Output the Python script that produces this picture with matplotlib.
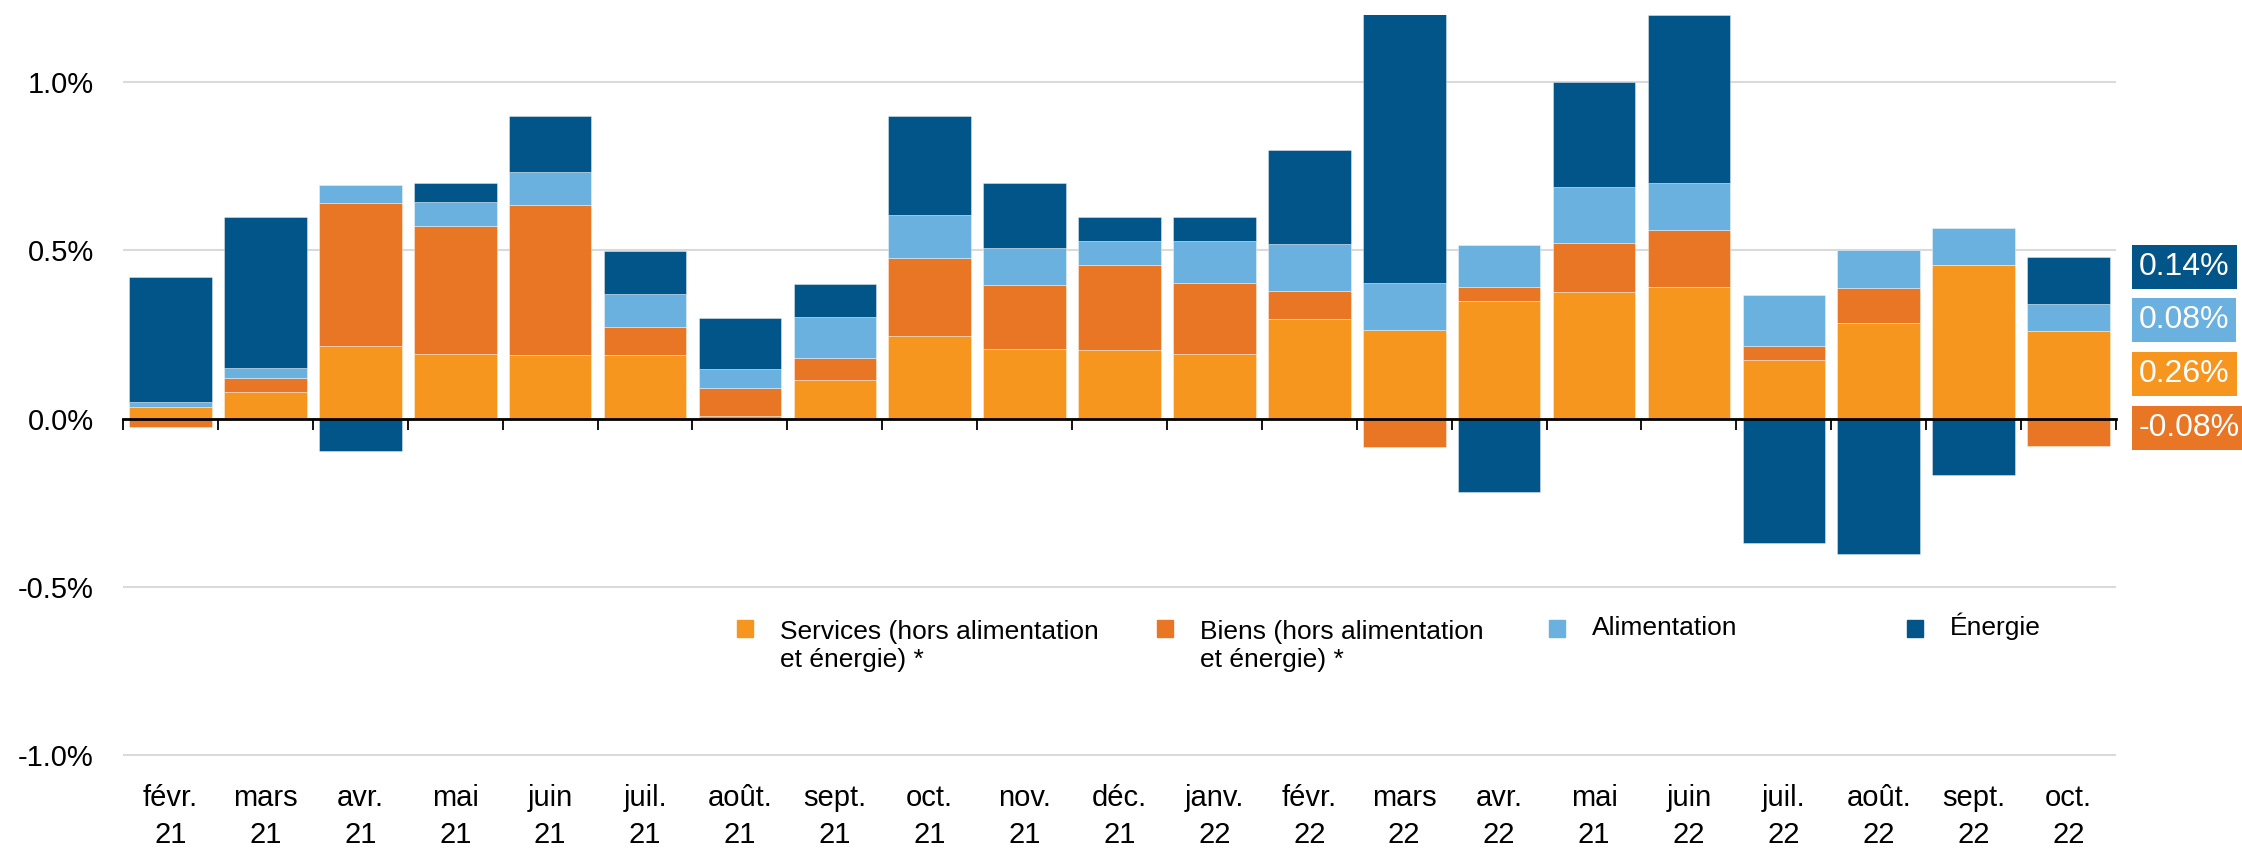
import numpy as np
import matplotlib.pyplot as plt
from matplotlib.patches import Rectangle

plt.rcParams['font.family'] = ['Liberation Sans', 'DejaVu Sans']

months = ['févr.\n21', 'mars\n21', 'avr.\n21', 'mai\n21', 'juin\n21', 'juil.\n21',
          'août.\n21', 'sept.\n21', 'oct.\n21', 'nov.\n21', 'déc.\n21', 'janv.\n22',
          'févr.\n22', 'mars\n22', 'avr.\n22', 'mai\n21', 'juin\n22', 'juil.\n22',
          'août.\n22', 'sept.\n22', 'oct.\n22']

services = [0.036, 0.080, 0.215, 0.193, 0.188, 0.188, 0.007, 0.115, 0.246, 0.206, 0.203,
            0.191, 0.297, 0.264, 0.349, 0.376, 0.392, 0.174, 0.284, 0.458, 0.26]
biens = [-0.024, 0.041, 0.426, 0.380, 0.447, 0.085, 0.083, 0.064, 0.233, 0.191, 0.255,
         0.213, 0.083, -0.085, 0.043, 0.147, 0.170, 0.042, 0.105, 0.0, -0.08]
alimentation = [0.014, 0.029, 0.054, 0.071, 0.097, 0.097, 0.057, 0.124, 0.125, 0.110, 0.070,
                0.123, 0.139, 0.139, 0.123, 0.165, 0.139, 0.152, 0.111, 0.109, 0.08]
energie = [0.370, 0.448, -0.095, 0.056, 0.169, 0.129, 0.152, 0.096, 0.297, 0.193, 0.071,
           0.072, 0.281, 0.80, -0.217, 0.313, 0.50, -0.370, -0.403, -0.169, 0.14]

series = [
    ('Services (hors alimentation\net énergie) *', services, '#F7961F'),
    ('Biens (hors alimentation\net énergie) *', biens, '#E87624'),
    ('Alimentation', alimentation, '#6AB1E0'),
    ('Énergie', energie, '#025588'),
]

fig = plt.figure(figsize=(22.42, 8.48), dpi=100)
ax = fig.add_axes([0.0549, 0.0700, 0.8889, 0.9123])

x = np.arange(len(months))
pos = np.zeros(len(months))
neg = np.zeros(len(months))
for name, vals, col in series:
    v = np.array(vals)
    bottom = np.where(v >= 0, pos, neg)
    ax.bar(x, v, 0.87, bottom=bottom, color=col, edgecolor=(1, 1, 1, 0.45),
           linewidth=0.6, zorder=2)
    pos = pos + np.where(v >= 0, v, 0)
    neg = neg + np.where(v < 0, v, 0)

ax.set_xlim(-0.5, len(months) - 0.5)
ax.set_ylim(-1.1, 1.2)
ax.set_yticks([-1.0, -0.5, 0.0, 0.5, 1.0])
ax.set_yticklabels(['-1.0%', '-0.5%', '0.0%', '0.5%', '1.0%'])
ax.grid(axis='y', color='#DADADA', linewidth=1.5, zorder=0)
ax.set_axisbelow(True)
ax.tick_params(axis='y', length=0, pad=21, labelsize=21)
ax.set_xticks(x)
ax.set_xticklabels(months, linespacing=1.38)
ax.tick_params(axis='x', length=0, pad=-3, labelsize=21)
for s in ax.spines.values():
    s.set_visible(False)

# zero line with ticks between months
zero_pos = (0 - (-1.1)) / 2.3
sec = ax.secondary_xaxis(zero_pos)
sec.set_xticks(np.arange(-0.5, len(months), 1.0))
sec.set_xticklabels([])
sec.tick_params(axis='x', direction='out', length=8, width=1.3, color='black')
sec.spines['bottom'].set_linewidth(2)
sec.spines['bottom'].set_color('black')
sec.set_zorder(3)

# labels of the last month, boxes on the right (energie, alimentation, services, biens)
box_order = [3, 2, 0, 1]
box_y = [0.452, 0.292, 0.134, -0.027]
for i, yy in zip(box_order, box_y):
    name, vals, col = series[i]
    ax.text(1.0115, yy, f'{vals[-1]:.2f}%', transform=ax.get_yaxis_transform(),
            ha='left', va='center', fontsize=23, color='white',
            bbox=dict(boxstyle='square,pad=0.22', fc=col, ec='none'))

# legend drawn by hand, marker aligned with the first line
leg_x = [737, 1157, 1549, 1907]
W, H = 2242, 848
for (name, vals, col), lx in zip(series, leg_x):
    fig.patches.append(Rectangle((lx / W, 1 - 637 / H), 16 / W, 17 / H,
                                 transform=fig.transFigure, color=col))
    base = 635 + 32 * name.count('\n')
    fig.text((lx + 43) / W, 1 - base / H, name, ha='left', va='baseline',
             fontsize=19, linespacing=1.2)

fig.savefig('out.png', dpi=100)
